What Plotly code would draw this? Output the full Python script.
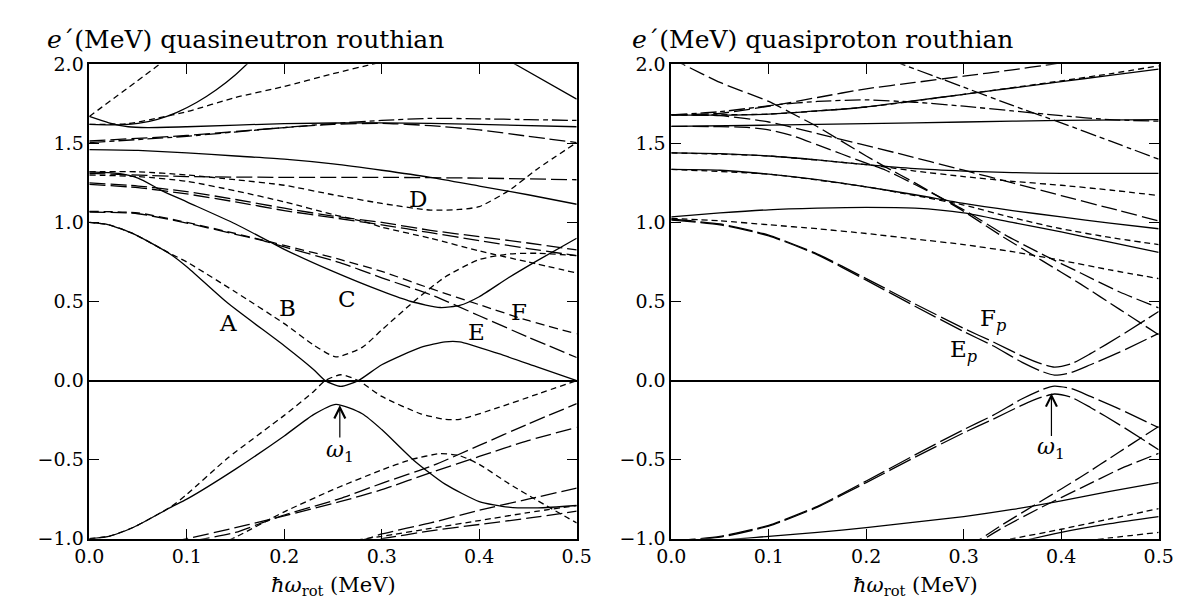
import plotly.graph_objects as go

# ---------------- quasineutron (left panel) ----------------
nA_x = [0, 0.02, 0.046, 0.084, 0.1, 0.142, 0.2, 0.23, 0.242, 0.258, 0.276, 0.3, 0.34, 0.365, 0.38, 0.42, 0.46, 0.5]
nA_y = [1.0, 0.985, 0.926, 0.796, 0.72, 0.49, 0.22, 0.07, 0.0, -0.037, 0.0, 0.10, 0.21, 0.245, 0.245, 0.17, 0.085, 0.0]
nB_x = [0, 0.02, 0.046, 0.084, 0.1, 0.15, 0.2, 0.23, 0.253, 0.28, 0.3, 0.333, 0.365, 0.4, 0.43, 0.46, 0.5]
nB_y = [1.0, 0.985, 0.926, 0.80, 0.75, 0.56, 0.36, 0.225, 0.15, 0.21, 0.32, 0.50, 0.655, 0.765, 0.80, 0.805, 0.79]
nC_x = [0, 0.03, 0.05, 0.075, 0.1, 0.15, 0.2, 0.25, 0.3, 0.33, 0.36, 0.38, 0.4, 0.43, 0.46, 0.5]
nC_y = [1.32, 1.31, 1.28, 1.2, 1.13, 0.99, 0.83, 0.69, 0.565, 0.5, 0.462, 0.475, 0.53, 0.65, 0.76, 0.9]
nD_x = [0, 0.05, 0.1, 0.15, 0.2, 0.25, 0.3, 0.35, 0.38, 0.4, 0.43, 0.46, 0.5]
nD_y = [1.32, 1.32, 1.30, 1.27, 1.235, 1.175, 1.12, 1.078, 1.082, 1.10, 1.20, 1.34, 1.505]
nG_x = [0, 0.05, 0.1, 0.15, 0.2, 0.25, 0.3, 0.35, 0.4, 0.45, 0.5]
nG_y = [1.46, 1.455, 1.44, 1.42, 1.40, 1.37, 1.33, 1.285, 1.23, 1.175, 1.115]
nH_x = [0, 0.1, 0.2, 0.3, 0.4, 0.5]
nH_y = [1.31, 1.29, 1.285, 1.285, 1.28, 1.27]
nI_x = [0, 0.02, 0.04, 0.06, 0.1, 0.2, 0.3, 0.4, 0.5]
nI_y = [1.67, 1.63, 1.605, 1.60, 1.605, 1.625, 1.63, 1.62, 1.605]
nJ_x = [0, 0.02, 0.035, 0.05, 0.07, 0.09, 0.11, 0.13, 0.15, 0.17]
nJ_y = [1.62, 1.617, 1.618, 1.626, 1.652, 1.696, 1.758, 1.837, 1.934, 2.05]
nK_x = [0, 0.072, 0.08]
nK_y = [1.67, 2.0, 2.04]
nL_x = [0, 0.04, 0.07, 0.1, 0.15, 0.2, 0.25, 0.29, 0.3]
nL_y = [1.62, 1.625, 1.66, 1.70, 1.79, 1.86, 1.94, 2.0, 2.015]
nM_x = [0.43, 0.437, 0.5]
nM_y = [2.025, 2.0, 1.78]
nN_x = [0, 0.1, 0.2, 0.25, 0.3, 0.35, 0.4, 0.45, 0.5]
nN_y = [1.515, 1.55, 1.60, 1.62, 1.627, 1.612, 1.585, 1.545, 1.505]
nO_x = [0, 0.1, 0.2, 0.25, 0.3, 0.35, 0.4, 0.45, 0.5]
nO_y = [1.505, 1.545, 1.60, 1.625, 1.645, 1.658, 1.655, 1.65, 1.645]
nE_x = [0, 0.05, 0.1, 0.15, 0.177, 0.2, 0.257, 0.3, 0.353, 0.4, 0.45, 0.5]
nE_y = [1.066, 1.055, 0.996, 0.925, 0.886, 0.845, 0.746, 0.65, 0.536, 0.41, 0.275, 0.146]
nF_x = [0, 0.05, 0.1, 0.15, 0.177, 0.2, 0.257, 0.3, 0.353, 0.4, 0.45, 0.5]
nF_y = [1.07, 1.06, 1.0, 0.93, 0.89, 0.855, 0.766, 0.69, 0.576, 0.48, 0.38, 0.296]
nL1_x = [0, 0.05, 0.1, 0.15, 0.2, 0.25, 0.3, 0.35, 0.4, 0.45, 0.5]
nL1_y = [1.25, 1.23, 1.195, 1.145, 1.09, 1.04, 1.0, 0.95, 0.91, 0.87, 0.826]
nL2_x = [0, 0.05, 0.1, 0.15, 0.2, 0.25, 0.3, 0.35, 0.4, 0.45, 0.5]
nL2_y = [1.24, 1.22, 1.18, 1.13, 1.075, 1.03, 0.985, 0.935, 0.885, 0.835, 0.79]
nS1_x = [0, 0.05, 0.1, 0.15, 0.2, 0.25, 0.285, 0.3, 0.35, 0.4, 0.45, 0.5]
nS1_y = [1.30, 1.29, 1.26, 1.20, 1.13, 1.05, 1.0, 0.97, 0.90, 0.82, 0.75, 0.68]
# negative-energy partners (left)
nmB_y = [-1.0, -0.985, -0.926, -0.80, -0.75, -0.56, -0.35, -0.215, -0.15, -0.21, -0.31, -0.505, -0.655, -0.765, -0.80, -0.805, -0.79]
nmA_y = [-1.0, -0.985, -0.926, -0.796, -0.72, -0.49, -0.22, -0.07, 0.0, 0.037, 0.0, -0.10, -0.21, -0.245, -0.245, -0.17, -0.085, 0.0]
nmC_y = [-1.32, -1.31, -1.28, -1.2, -1.13, -0.99, -0.83, -0.69, -0.565, -0.5, -0.462, -0.475, -0.53, -0.65, -0.76, -0.9]
nmE_y = [-1.066, -1.055, -1.02, -0.96, -0.9, -0.85, -0.746, -0.65, -0.536, -0.41, -0.275, -0.146]
nmF_y = [-1.07, -1.06, -1.0, -0.93, -0.89, -0.855, -0.766, -0.69, -0.576, -0.48, -0.38, -0.296]
nmL1_y = [-1.25, -1.23, -1.195, -1.145, -1.09, -1.04, -1.0, -0.95, -0.91, -0.87, -0.826]
nmL2_y = [-1.24, -1.22, -1.18, -1.13, -1.075, -1.03, -0.985, -0.935, -0.885, -0.835, -0.79]
nmS1_y = [-1.30, -1.29, -1.26, -1.20, -1.13, -1.05, -1.0, -0.97, -0.90, -0.82, -0.75, -0.68]

# ---------------- quasiproton (right panel) ----------------
grid11 = [0, 0.05, 0.1, 0.15, 0.2, 0.25, 0.3, 0.35, 0.4, 0.45, 0.5]
pR1_x = [0, 0.1, 0.2, 0.3, 0.4, 0.5]
pR1_y = [1.607, 1.615, 1.625, 1.635, 1.645, 1.65]
pR2_y = [1.68, 1.678, 1.685, 1.705, 1.73, 1.77, 1.81, 1.85, 1.89, 1.93, 1.97]
pR3_x = [0, 0.1, 0.2, 0.3, 0.4, 0.45, 0.5]
pR3_y = [1.68, 1.685, 1.73, 1.81, 1.895, 1.94, 1.99]
pR4_x = [0, 0.05, 0.11, 0.15, 0.2, 0.25, 0.3, 0.35, 0.39, 0.4]
pR4_y = [1.68, 1.69, 1.745, 1.79, 1.845, 1.885, 1.925, 1.965, 2.0, 2.01]
pR5_x = [0, 0.05, 0.11, 0.15, 0.2, 0.25, 0.3, 0.35, 0.4, 0.45, 0.5]
pR5_y = [1.68, 1.70, 1.745, 1.765, 1.775, 1.76, 1.735, 1.705, 1.675, 1.65, 1.64]
pP1_x = [0, 0.012, 0.05, 0.1, 0.13, 0.15, 0.2, 0.22, 0.25, 0.3, 0.34, 0.38, 0.42, 0.46, 0.49, 0.5]
pP1_y = [2.04, 2.0, 1.885, 1.765, 1.67, 1.605, 1.42, 1.35, 1.25, 1.07, 0.91, 0.76, 0.61, 0.45, 0.33, 0.29]
pSb_x = [0, 0.05, 0.08, 0.1, 0.126, 0.15, 0.2, 0.22, 0.25, 0.3, 0.34, 0.38, 0.42, 0.46, 0.5]
pSb_y = [1.607, 1.606, 1.60, 1.585, 1.545, 1.49, 1.375, 1.33, 1.24, 1.08, 0.93, 0.80, 0.68, 0.56, 0.46]
pR8_x = [0, 0.05, 0.1, 0.153, 0.233, 0.3, 0.35, 0.4, 0.45, 0.5]
pR8_y = [1.68, 1.675, 1.635, 1.557, 1.436, 1.33, 1.25, 1.17, 1.09, 1.01]
pP2_x = [0.225, 0.237, 0.3, 0.35, 0.4, 0.45, 0.5]
pP2_y = [2.03, 2.0, 1.855, 1.74, 1.63, 1.515, 1.40]
pR10_y = [1.44, 1.435, 1.42, 1.395, 1.365, 1.34, 1.325, 1.315, 1.31, 1.31, 1.31]
pR11_x = [0, 0.1, 0.2, 0.22, 0.25, 0.3, 0.35, 0.4, 0.45, 0.5]
pR11_y = [1.44, 1.42, 1.365, 1.35, 1.325, 1.29, 1.26, 1.235, 1.205, 1.17]
pR12_y = [1.335, 1.33, 1.305, 1.27, 1.225, 1.175, 1.12, 1.075, 1.035, 0.995, 0.96]
pR13_x = [0, 0.1, 0.2, 0.25, 0.3, 0.35, 0.4, 0.45, 0.5]
pR13_y = [1.335, 1.305, 1.225, 1.17, 1.11, 1.03, 0.96, 0.905, 0.86]
pR14_y = [1.035, 1.06, 1.08, 1.09, 1.095, 1.09, 1.06, 1.0, 0.94, 0.875, 0.81]
pR15_y = [1.025, 1.01, 0.985, 0.96, 0.93, 0.895, 0.86, 0.815, 0.76, 0.70, 0.645]
pEF_x = [0, 0.05, 0.1, 0.15, 0.2, 0.25, 0.3, 0.33, 0.36, 0.38, 0.393, 0.41, 0.43, 0.46, 0.5]
pFp_y = [1.02, 0.99, 0.92, 0.80, 0.645, 0.485, 0.33, 0.245, 0.155, 0.105, 0.085, 0.105, 0.17, 0.28, 0.437]
pEp_y = [1.015, 0.985, 0.915, 0.795, 0.635, 0.47, 0.31, 0.22, 0.115, 0.058, 0.035, 0.05, 0.10, 0.18, 0.298]
# negative-energy partners (right)
pmFp_y = [-1.02, -0.99, -0.92, -0.80, -0.645, -0.485, -0.33, -0.245, -0.155, -0.105, -0.085, -0.105, -0.17, -0.28, -0.437]
pmEp_y = [-1.015, -0.985, -0.915, -0.795, -0.635, -0.47, -0.31, -0.22, -0.115, -0.058, -0.035, -0.05, -0.10, -0.18, -0.298]
pmP1_y = [-2.04, -2.0, -1.885, -1.765, -1.67, -1.605, -1.42, -1.35, -1.25, -1.07, -0.91, -0.76, -0.61, -0.45, -0.33, -0.29]
pmSb_y = [-1.607, -1.606, -1.60, -1.585, -1.545, -1.49, -1.375, -1.33, -1.24, -1.08, -0.93, -0.80, -0.68, -0.56, -0.46]
pmR15_y = [-1.025, -1.01, -0.985, -0.96, -0.93, -0.895, -0.86, -0.815, -0.76, -0.70, -0.645]
pmR14_y = [-1.035, -1.06, -1.08, -1.09, -1.095, -1.09, -1.06, -1.0, -0.94, -0.875, -0.81]
pmR13_y = [-1.335, -1.305, -1.225, -1.17, -1.11, -1.03, -0.96, -0.905, -0.86]
pmR12_y = [-1.335, -1.33, -1.305, -1.27, -1.225, -1.175, -1.12, -1.075, -1.035, -0.995, -0.96]

x_ticks = [0, 0.1, 0.2, 0.3, 0.4, 0.5]
x_ticktext = ["0.0", "0.1", "0.2", "0.3", "0.4", "0.5"]
y_ticks = [-1.0, -0.5, 0.0, 0.5, 1.0, 1.5, 2.0]
y_ticktext = ["\u22121.0", "\u22120.5", "0.0", "0.5", "1.0", "1.5", "2.0"]

n_labels = ["A", "B", "C", "D", "E", "F"]
n_label_x = [0.142, 0.203, 0.264, 0.337, 0.397, 0.441]
n_label_y = [0.366, 0.456, 0.516, 1.149, 0.306, 0.436]
p_labels = ["F<i><sub>p</sub></i>", "E<i><sub>p</sub></i>"]
p_label_x = [0.33, 0.30]
p_label_y = [0.38, 0.19]

SOLID = "solid"
SHORT = "6px,4px"
LONG = "16px,5px"
DASHDOT = "16px,4px,5px,4px"
PAIR = "24px,5px"

neutron = [
    (nA_x, nA_y, SOLID), (nB_x, nB_y, SHORT), (nC_x, nC_y, SOLID), (nD_x, nD_y, SHORT),
    (nG_x, nG_y, SOLID), (nH_x, nH_y, LONG), (nI_x, nI_y, SOLID), (nJ_x, nJ_y, SOLID),
    (nK_x, nK_y, SHORT), (nL_x, nL_y, SHORT), (nM_x, nM_y, SOLID), (nN_x, nN_y, LONG),
    (nO_x, nO_y, DASHDOT), (nE_x, nE_y, LONG), (nF_x, nF_y, "9px,5px"),
    (nL1_x, nL1_y, LONG), (nL2_x, nL2_y, LONG), (nS1_x, nS1_y, SHORT),
    (nB_x, nmB_y, SOLID), (nA_x, nmA_y, SHORT), (nC_x, nmC_y, SHORT),
    (nE_x, nmE_y, LONG), (nF_x, nmF_y, LONG), (nL1_x, nmL1_y, LONG),
    (nL2_x, nmL2_y, SHORT), (nS1_x, nmS1_y, LONG),
]
proton = [
    (pR1_x, pR1_y, SOLID), (grid11, pR2_y, SOLID), (pR3_x, pR3_y, SHORT), (pR4_x, pR4_y, LONG),
    (pR5_x, pR5_y, DASHDOT), (pP1_x, pP1_y, LONG), (pSb_x, pSb_y, LONG), (pR8_x, pR8_y, LONG),
    (pP2_x, pP2_y, DASHDOT), (grid11, pR10_y, SOLID), (pR11_x, pR11_y, SHORT),
    (grid11, pR12_y, SOLID), (pR13_x, pR13_y, SHORT), (grid11, pR14_y, SOLID),
    (grid11, pR15_y, SHORT), (pEF_x, pFp_y, PAIR), (pEF_x, pEp_y, PAIR),
    (pEF_x, pmFp_y, PAIR), (pEF_x, pmEp_y, PAIR), (pP1_x, pmP1_y, LONG), (pSb_x, pmSb_y, LONG),
    (grid11, pmR15_y, SOLID), (grid11, pmR14_y, SHORT), (pR13_x, pmR13_y, SOLID),
    (grid11, pmR12_y, SHORT),
]

fig = go.Figure()
for xs, ys, d in neutron:
    fig.add_trace(go.Scatter(x=xs, y=ys, mode="lines", xaxis="x", yaxis="y",
                             line=dict(color="black", width=1.3, dash=d, shape="spline", smoothing=0.6),
                             showlegend=False, hoverinfo="skip"))
for xs, ys, d in proton:
    fig.add_trace(go.Scatter(x=xs, y=ys, mode="lines", xaxis="x2", yaxis="y2",
                             line=dict(color="black", width=1.3, dash=d, shape="spline", smoothing=0.6),
                             showlegend=False, hoverinfo="skip"))

SERIF = "DejaVu Serif"
axis_common = dict(showline=True, linecolor="black", linewidth=1.5, mirror="ticks",
                   ticks="inside", ticklen=10, tickwidth=1.3, tickcolor="black",
                   showgrid=False, tickfont=dict(family=SERIF, size=19, color="black"))

fig.update_layout(
    width=1193, height=604, margin=dict(l=0, r=0, t=0, b=0),
    paper_bgcolor="white", plot_bgcolor="white", showlegend=False,
    font=dict(family=SERIF, color="black"),
    xaxis=dict(domain=[0.057, 0.4761], range=[0, 0.5], tickvals=x_ticks, ticktext=x_ticktext,
               zeroline=False, anchor="y", **axis_common),
    yaxis=dict(domain=[0.107, 0.9222], range=[-1, 2], tickvals=y_ticks, ticktext=y_ticktext,
               zeroline=True, zerolinecolor="black", zerolinewidth=1.5, anchor="x", **axis_common),
    xaxis2=dict(domain=[0.5574, 0.9765], range=[0, 0.5], tickvals=x_ticks, ticktext=x_ticktext,
                zeroline=False, anchor="y2", **axis_common),
    yaxis2=dict(domain=[0.107, 0.9222], range=[-1, 2], tickvals=y_ticks, ticktext=y_ticktext,
                zeroline=True, zerolinecolor="black", zerolinewidth=1.5, anchor="x2", **axis_common),
)

ann = []
ann.append(dict(text="<i>e</i>\u00b4(MeV) quasineutron routhian", xref="paper", yref="paper",
                x=0.019, y=0.965, xanchor="left", yanchor="middle", showarrow=False,
                font=dict(family=SERIF, size=25, color="black")))
ann.append(dict(text="<i>e</i>\u00b4(MeV) quasiproton routhian", xref="paper", yref="paper",
                x=0.522, y=0.965, xanchor="left", yanchor="middle", showarrow=False,
                font=dict(family=SERIF, size=25, color="black")))
for xc in (0.2666, 0.767):
    ann.append(dict(text="<i>\u0127\u03c9</i><sub>rot</sub> (MeV)", xref="paper", yref="paper",
                    x=xc, y=0.0, xanchor="center", yanchor="bottom", showarrow=False,
                    font=dict(family=SERIF, size=21, color="black")))
for t, lx, ly in zip(n_labels, n_label_x, n_label_y):
    ann.append(dict(text=t, x=lx, y=ly, xref="x", yref="y", showarrow=False,
                    font=dict(family=SERIF, size=23, color="black")))
for t, lx, ly in zip(p_labels, p_label_x, p_label_y):
    ann.append(dict(text=t, x=lx, y=ly, xref="x2", yref="y2", showarrow=False,
                    font=dict(family=SERIF, size=23, color="black")))
# omega_1 arrows
ann.append(dict(x=0.257, y=-0.155, ax=0.257, ay=-0.37, xref="x", yref="y", axref="x", ayref="y",
                showarrow=True, arrowhead=5, arrowsize=1.8, arrowwidth=1.2, arrowcolor="black", text=""))
ann.append(dict(text="<i>\u03c9</i><sub>1</sub>", x=0.257, y=-0.45, xref="x", yref="y", showarrow=False,
                font=dict(family=SERIF, size=22, color="black")))
ann.append(dict(x=0.39, y=-0.08, ax=0.39, ay=-0.36, xref="x2", yref="y2", axref="x2", ayref="y2",
                showarrow=True, arrowhead=5, arrowsize=1.8, arrowwidth=1.2, arrowcolor="black", text=""))
ann.append(dict(text="<i>\u03c9</i><sub>1</sub>", x=0.39, y=-0.43, xref="x2", yref="y2", showarrow=False,
                font=dict(family=SERIF, size=22, color="black")))
fig.update_layout(annotations=ann)

fig.write_html("out.html")
